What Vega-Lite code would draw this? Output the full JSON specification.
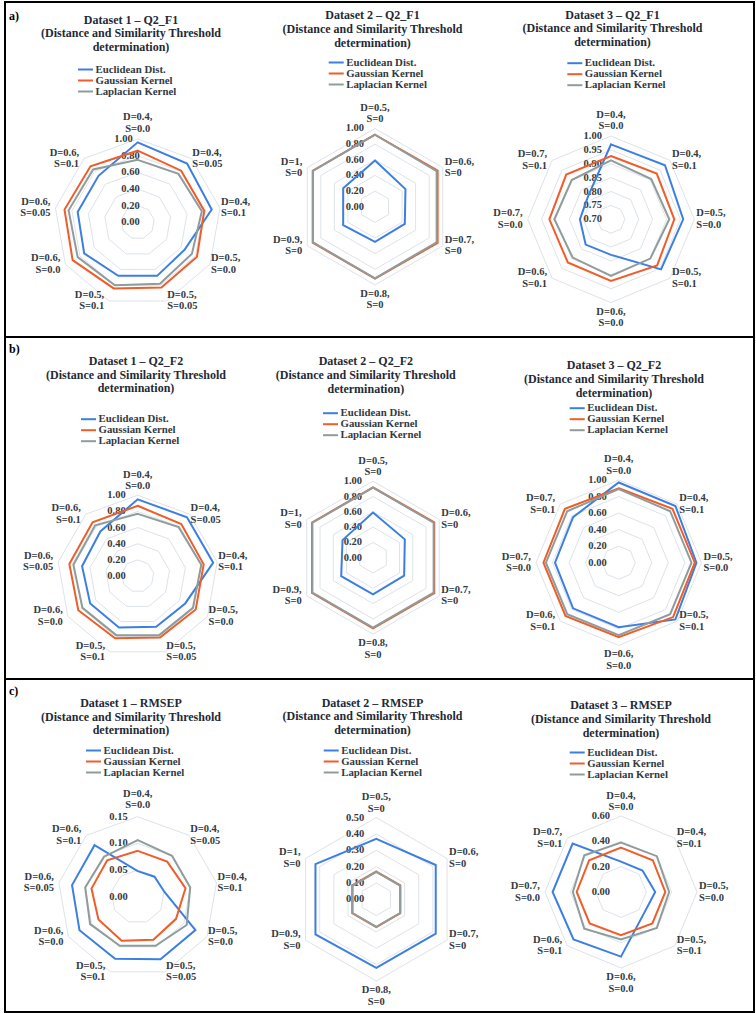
{
  "$schema": "https://vega.github.io/schema/vega-lite/v6.json",
  "background": "white",
  "padding": {"left": 4, "top": 1, "right": 3, "bottom": 2},
  "bounds": "flush",
  "spacing": 0,
  "config": {
    "view": {"stroke": "#000000", "strokeWidth": 2},
    "text": {"font": "Liberation Serif", "fontWeight": "bold", "fontSize": 10.5, "color": "#333a42", "lineBreak": "\n", "lineHeight": 11.5},
    "legend": {"symbolType": "M-1.5,0H1.5", "symbolSize": 100, "symbolStrokeWidth": 2, "labelFont": "Liberation Serif", "labelFontSize": 10.8, "labelFontWeight": "bold", "labelColor": "#333a42", "rowPadding": -0.7, "labelOffset": 4, "padding": 0}
  },
  "datasets": {
    "c9": [{"k":0,"c":"D=0.4,\nS=0.0"},{"k":1,"c":"D=0.4,\nS=0.05"},{"k":2,"c":"D=0.4,\nS=0.1"},{"k":3,"c":"D=0.5,\nS=0.0"},{"k":4,"c":"D=0.5,\nS=0.05"},{"k":5,"c":"D=0.5,\nS=0.1"},{"k":6,"c":"D=0.6,\nS=0.0"},{"k":7,"c":"D=0.6,\nS=0.05"},{"k":8,"c":"D=0.6,\nS=0.1"}],
    "c6": [{"k":0,"c":"D=0.5,\nS=0"},{"k":1,"c":"D=0.6,\nS=0"},{"k":2,"c":"D=0.7,\nS=0"},{"k":3,"c":"D=0.8,\nS=0"},{"k":4,"c":"D=0.9,\nS=0"},{"k":5,"c":"D=1,\nS=0"}],
    "c8": [{"k":0,"c":"D=0.4,\nS=0.0"},{"k":1,"c":"D=0.4,\nS=0.1"},{"k":2,"c":"D=0.5,\nS=0.0"},{"k":3,"c":"D=0.5,\nS=0.1"},{"k":4,"c":"D=0.6,\nS=0.0"},{"k":5,"c":"D=0.6,\nS=0.1"},{"k":6,"c":"D=0.7,\nS=0.0"},{"k":7,"c":"D=0.7,\nS=0.1"}],
    "t_9_1": [{"t":0,"k":[0,1,2,3,4,5,6,7,8]},{"t":0.2,"k":[0,1,2,3,4,5,6,7,8]},{"t":0.4,"k":[0,1,2,3,4,5,6,7,8]},{"t":0.6,"k":[0,1,2,3,4,5,6,7,8]},{"t":0.8,"k":[0,1,2,3,4,5,6,7,8]},{"t":1,"k":[0,1,2,3,4,5,6,7,8]}],
    "t_6_1": [{"t":0,"k":[0,1,2,3,4,5]},{"t":0.2,"k":[0,1,2,3,4,5]},{"t":0.4,"k":[0,1,2,3,4,5]},{"t":0.6,"k":[0,1,2,3,4,5]},{"t":0.8,"k":[0,1,2,3,4,5]},{"t":1,"k":[0,1,2,3,4,5]}],
    "t_8_a3": [{"t":0.7,"k":[0,1,2,3,4,5,6,7]},{"t":0.75,"k":[0,1,2,3,4,5,6,7]},{"t":0.8,"k":[0,1,2,3,4,5,6,7]},{"t":0.85,"k":[0,1,2,3,4,5,6,7]},{"t":0.9,"k":[0,1,2,3,4,5,6,7]},{"t":0.95,"k":[0,1,2,3,4,5,6,7]},{"t":1,"k":[0,1,2,3,4,5,6,7]}],
    "t_8_1": [{"t":0,"k":[0,1,2,3,4,5,6,7]},{"t":0.2,"k":[0,1,2,3,4,5,6,7]},{"t":0.4,"k":[0,1,2,3,4,5,6,7]},{"t":0.6,"k":[0,1,2,3,4,5,6,7]},{"t":0.8,"k":[0,1,2,3,4,5,6,7]},{"t":1,"k":[0,1,2,3,4,5,6,7]}],
    "t_c1": [{"t":0,"k":[0,1,2,3,4,5,6,7,8]},{"t":0.05,"k":[0,1,2,3,4,5,6,7,8]},{"t":0.1,"k":[0,1,2,3,4,5,6,7,8]},{"t":0.15,"k":[0,1,2,3,4,5,6,7,8]}],
    "t_c2": [{"t":0,"k":[0,1,2,3,4,5]},{"t":0.1,"k":[0,1,2,3,4,5]},{"t":0.2,"k":[0,1,2,3,4,5]},{"t":0.3,"k":[0,1,2,3,4,5]},{"t":0.4,"k":[0,1,2,3,4,5]},{"t":0.5,"k":[0,1,2,3,4,5]}],
    "t_c3": [{"t":0,"k":[0,1,2,3,4,5,6,7]},{"t":0.2,"k":[0,1,2,3,4,5,6,7]},{"t":0.4,"k":[0,1,2,3,4,5,6,7]},{"t":0.6,"k":[0,1,2,3,4,5,6,7]}],
    "a1": [
      {"s":"Euclidean Dist.","k":0,"v":0.96},{"s":"Euclidean Dist.","k":1,"v":0.92},{"s":"Euclidean Dist.","k":2,"v":0.90},{"s":"Euclidean Dist.","k":3,"v":0.65},{"s":"Euclidean Dist.","k":4,"v":0.68},{"s":"Euclidean Dist.","k":5,"v":0.68},{"s":"Euclidean Dist.","k":6,"v":0.74},{"s":"Euclidean Dist.","k":7,"v":0.73},{"s":"Euclidean Dist.","k":8,"v":0.73},
      {"s":"Gaussian Kernel","k":0,"v":0.86},{"s":"Gaussian Kernel","k":1,"v":0.81},{"s":"Gaussian Kernel","k":2,"v":0.81},{"s":"Gaussian Kernel","k":3,"v":0.82},{"s":"Gaussian Kernel","k":4,"v":0.83},{"s":"Gaussian Kernel","k":5,"v":0.84},{"s":"Gaussian Kernel","k":6,"v":0.90},{"s":"Gaussian Kernel","k":7,"v":0.89},{"s":"Gaussian Kernel","k":8,"v":0.88},
      {"s":"Laplacian Kernel","k":0,"v":0.75},{"s":"Laplacian Kernel","k":1,"v":0.76},{"s":"Laplacian Kernel","k":2,"v":0.78},{"s":"Laplacian Kernel","k":3,"v":0.75},{"s":"Laplacian Kernel","k":4,"v":0.78},{"s":"Laplacian Kernel","k":5,"v":0.80},{"s":"Laplacian Kernel","k":6,"v":0.83},{"s":"Laplacian Kernel","k":7,"v":0.84},{"s":"Laplacian Kernel","k":8,"v":0.83}
    ],
    "a2": [
      {"s":"Euclidean Dist.","k":0,"v":0.59},{"s":"Euclidean Dist.","k":1,"v":0.45},{"s":"Euclidean Dist.","k":2,"v":0.44},{"s":"Euclidean Dist.","k":3,"v":0.45},{"s":"Euclidean Dist.","k":4,"v":0.47},{"s":"Euclidean Dist.","k":5,"v":0.47},
      {"s":"Gaussian Kernel","k":0,"v":0.92},{"s":"Gaussian Kernel","k":1,"v":0.925},{"s":"Gaussian Kernel","k":2,"v":0.925},{"s":"Gaussian Kernel","k":3,"v":0.92},{"s":"Gaussian Kernel","k":4,"v":0.92},{"s":"Gaussian Kernel","k":5,"v":0.92},
      {"s":"Laplacian Kernel","k":0,"v":0.92},{"s":"Laplacian Kernel","k":1,"v":0.91},{"s":"Laplacian Kernel","k":2,"v":0.91},{"s":"Laplacian Kernel","k":3,"v":0.915},{"s":"Laplacian Kernel","k":4,"v":0.915},{"s":"Laplacian Kernel","k":5,"v":0.915}
    ],
    "a3": [
      {"s":"Euclidean Dist.","k":0,"v":0.97},{"s":"Euclidean Dist.","k":1,"v":0.975},{"s":"Euclidean Dist.","k":2,"v":0.96},{"s":"Euclidean Dist.","k":3,"v":0.955},{"s":"Euclidean Dist.","k":4,"v":0.828},{"s":"Euclidean Dist.","k":5,"v":0.829},{"s":"Euclidean Dist.","k":6,"v":0.812},{"s":"Euclidean Dist.","k":7,"v":0.817},
      {"s":"Gaussian Kernel","k":0,"v":0.928},{"s":"Gaussian Kernel","k":1,"v":0.933},{"s":"Gaussian Kernel","k":2,"v":0.928},{"s":"Gaussian Kernel","k":3,"v":0.935},{"s":"Gaussian Kernel","k":4,"v":0.922},{"s":"Gaussian Kernel","k":5,"v":0.92},{"s":"Gaussian Kernel","k":6,"v":0.922},{"s":"Gaussian Kernel","k":7,"v":0.928},
      {"s":"Laplacian Kernel","k":0,"v":0.912},{"s":"Laplacian Kernel","k":1,"v":0.905},{"s":"Laplacian Kernel","k":2,"v":0.91},{"s":"Laplacian Kernel","k":3,"v":0.90},{"s":"Laplacian Kernel","k":4,"v":0.904},{"s":"Laplacian Kernel","k":5,"v":0.895},{"s":"Laplacian Kernel","k":6,"v":0.904},{"s":"Laplacian Kernel","k":7,"v":0.90}
    ],
    "b1": [
      {"s":"Euclidean Dist.","k":0,"v":0.95},{"s":"Euclidean Dist.","k":1,"v":0.95},{"s":"Euclidean Dist.","k":2,"v":0.95},{"s":"Euclidean Dist.","k":3,"v":0.68},{"s":"Euclidean Dist.","k":4,"v":0.67},{"s":"Euclidean Dist.","k":5,"v":0.68},{"s":"Euclidean Dist.","k":6,"v":0.68},{"s":"Euclidean Dist.","k":7,"v":0.70},{"s":"Euclidean Dist.","k":8,"v":0.72},
      {"s":"Gaussian Kernel","k":0,"v":0.87},{"s":"Gaussian Kernel","k":1,"v":0.84},{"s":"Gaussian Kernel","k":2,"v":0.83},{"s":"Gaussian Kernel","k":3,"v":0.83},{"s":"Gaussian Kernel","k":4,"v":0.81},{"s":"Gaussian Kernel","k":5,"v":0.82},{"s":"Gaussian Kernel","k":6,"v":0.85},{"s":"Gaussian Kernel","k":7,"v":0.86},{"s":"Gaussian Kernel","k":8,"v":0.87},
      {"s":"Laplacian Kernel","k":0,"v":0.77},{"s":"Laplacian Kernel","k":1,"v":0.79},{"s":"Laplacian Kernel","k":2,"v":0.80},{"s":"Laplacian Kernel","k":3,"v":0.79},{"s":"Laplacian Kernel","k":4,"v":0.78},{"s":"Laplacian Kernel","k":5,"v":0.78},{"s":"Laplacian Kernel","k":6,"v":0.79},{"s":"Laplacian Kernel","k":7,"v":0.81},{"s":"Laplacian Kernel","k":8,"v":0.82}
    ],
    "b2": [
      {"s":"Euclidean Dist.","k":0,"v":0.59},{"s":"Euclidean Dist.","k":1,"v":0.48},{"s":"Euclidean Dist.","k":2,"v":0.47},{"s":"Euclidean Dist.","k":3,"v":0.48},{"s":"Euclidean Dist.","k":4,"v":0.48},{"s":"Euclidean Dist.","k":5,"v":0.46},
      {"s":"Gaussian Kernel","k":0,"v":0.92},{"s":"Gaussian Kernel","k":1,"v":0.925},{"s":"Gaussian Kernel","k":2,"v":0.925},{"s":"Gaussian Kernel","k":3,"v":0.925},{"s":"Gaussian Kernel","k":4,"v":0.92},{"s":"Gaussian Kernel","k":5,"v":0.92},
      {"s":"Laplacian Kernel","k":0,"v":0.915},{"s":"Laplacian Kernel","k":1,"v":0.915},{"s":"Laplacian Kernel","k":2,"v":0.915},{"s":"Laplacian Kernel","k":3,"v":0.915},{"s":"Laplacian Kernel","k":4,"v":0.915},{"s":"Laplacian Kernel","k":5,"v":0.915}
    ],
    "b3": [
      {"s":"Euclidean Dist.","k":0,"v":0.97},{"s":"Euclidean Dist.","k":1,"v":0.97},{"s":"Euclidean Dist.","k":2,"v":0.94},{"s":"Euclidean Dist.","k":3,"v":0.97},{"s":"Euclidean Dist.","k":4,"v":0.78},{"s":"Euclidean Dist.","k":5,"v":0.78},{"s":"Euclidean Dist.","k":6,"v":0.77},{"s":"Euclidean Dist.","k":7,"v":0.78},
      {"s":"Gaussian Kernel","k":0,"v":0.90},{"s":"Gaussian Kernel","k":1,"v":0.92},{"s":"Gaussian Kernel","k":2,"v":0.92},{"s":"Gaussian Kernel","k":3,"v":0.93},{"s":"Gaussian Kernel","k":4,"v":0.90},{"s":"Gaussian Kernel","k":5,"v":0.91},{"s":"Gaussian Kernel","k":6,"v":0.91},{"s":"Gaussian Kernel","k":7,"v":0.92},
      {"s":"Laplacian Kernel","k":0,"v":0.89},{"s":"Laplacian Kernel","k":1,"v":0.88},{"s":"Laplacian Kernel","k":2,"v":0.88},{"s":"Laplacian Kernel","k":3,"v":0.88},{"s":"Laplacian Kernel","k":4,"v":0.875},{"s":"Laplacian Kernel","k":5,"v":0.88},{"s":"Laplacian Kernel","k":6,"v":0.88},{"s":"Laplacian Kernel","k":7,"v":0.88}
    ],
    "c1": [
      {"s":"Euclidean Dist.","k":0,"v":0.048},{"s":"Euclidean Dist.","k":1,"v":0.049},{"s":"Euclidean Dist.","k":2,"v":0.051},{"s":"Euclidean Dist.","k":3,"v":0.125},{"s":"Euclidean Dist.","k":4,"v":0.125},{"s":"Euclidean Dist.","k":5,"v":0.124},{"s":"Euclidean Dist.","k":6,"v":0.126},{"s":"Euclidean Dist.","k":7,"v":0.125},{"s":"Euclidean Dist.","k":8,"v":0.126},
      {"s":"Gaussian Kernel","k":0,"v":0.086},{"s":"Gaussian Kernel","k":1,"v":0.086},{"s":"Gaussian Kernel","k":2,"v":0.091},{"s":"Gaussian Kernel","k":3,"v":0.083},{"s":"Gaussian Kernel","k":4,"v":0.086},{"s":"Gaussian Kernel","k":5,"v":0.088},{"s":"Gaussian Kernel","k":6,"v":0.085},{"s":"Gaussian Kernel","k":7,"v":0.088},{"s":"Gaussian Kernel","k":8,"v":0.089},
      {"s":"Laplacian Kernel","k":0,"v":0.106},{"s":"Laplacian Kernel","k":1,"v":0.100},{"s":"Laplacian Kernel","k":2,"v":0.100},{"s":"Laplacian Kernel","k":3,"v":0.106},{"s":"Laplacian Kernel","k":4,"v":0.098},{"s":"Laplacian Kernel","k":5,"v":0.098},{"s":"Laplacian Kernel","k":6,"v":0.103},{"s":"Laplacian Kernel","k":7,"v":0.100},{"s":"Laplacian Kernel","k":8,"v":0.098}
    ],
    "c2": [
      {"s":"Euclidean Dist.","k":0,"v":0.37},{"s":"Euclidean Dist.","k":1,"v":0.42},{"s":"Euclidean Dist.","k":2,"v":0.42},{"s":"Euclidean Dist.","k":3,"v":0.42},{"s":"Euclidean Dist.","k":4,"v":0.43},{"s":"Euclidean Dist.","k":5,"v":0.43},
      {"s":"Gaussian Kernel","k":0,"v":0.17},{"s":"Gaussian Kernel","k":1,"v":0.17},{"s":"Gaussian Kernel","k":2,"v":0.17},{"s":"Gaussian Kernel","k":3,"v":0.17},{"s":"Gaussian Kernel","k":4,"v":0.17},{"s":"Gaussian Kernel","k":5,"v":0.17},
      {"s":"Laplacian Kernel","k":0,"v":0.168},{"s":"Laplacian Kernel","k":1,"v":0.168},{"s":"Laplacian Kernel","k":2,"v":0.168},{"s":"Laplacian Kernel","k":3,"v":0.168},{"s":"Laplacian Kernel","k":4,"v":0.168},{"s":"Laplacian Kernel","k":5,"v":0.168}
    ],
    "c3": [
      {"s":"Euclidean Dist.","k":0,"v":0.24},{"s":"Euclidean Dist.","k":1,"v":0.24},{"s":"Euclidean Dist.","k":2,"v":0.27},{"s":"Euclidean Dist.","k":3,"v":0.25},{"s":"Euclidean Dist.","k":4,"v":0.51},{"s":"Euclidean Dist.","k":5,"v":0.53},{"s":"Euclidean Dist.","k":6,"v":0.54},{"s":"Euclidean Dist.","k":7,"v":0.54},
      {"s":"Gaussian Kernel","k":0,"v":0.35},{"s":"Gaussian Kernel","k":1,"v":0.355},{"s":"Gaussian Kernel","k":2,"v":0.35},{"s":"Gaussian Kernel","k":3,"v":0.35},{"s":"Gaussian Kernel","k":4,"v":0.34},{"s":"Gaussian Kernel","k":5,"v":0.35},{"s":"Gaussian Kernel","k":6,"v":0.35},{"s":"Gaussian Kernel","k":7,"v":0.355},
      {"s":"Laplacian Kernel","k":0,"v":0.39},{"s":"Laplacian Kernel","k":1,"v":0.40},{"s":"Laplacian Kernel","k":2,"v":0.38},{"s":"Laplacian Kernel","k":3,"v":0.40},{"s":"Laplacian Kernel","k":4,"v":0.375},{"s":"Laplacian Kernel","k":5,"v":0.41},{"s":"Laplacian Kernel","k":6,"v":0.38},{"s":"Laplacian Kernel","k":7,"v":0.41}
    ]
  },
  "vconcat": [
    {
      "width": 749, "height": 335,
      "resolve": {"scale": {"x": "independent", "y": "independent", "color": "independent"}},
      "layer": [
        {
          "encoding": {
            "x": {"field": "px", "type": "quantitative", "scale": {"domain": [-1.5892, 7.3808], "nice": false, "zero": false}, "axis": null},
            "y": {"field": "py", "type": "quantitative", "scale": {"domain": [-1.3713, 2.6407], "nice": false, "zero": false}, "axis": null}
          },
          "layer": [
            {"data": {"name": "t_9_1"}, "transform": [{"filter": "datum.t > 0"}, {"flatten": ["k"]}, {"calculate": "datum.t/1", "as": "r"}, {"calculate": "datum.r*sin(2*PI*datum.k/9)", "as": "px"}, {"calculate": "datum.r*cos(2*PI*datum.k/9)", "as": "py"}],
             "mark": {"type": "line", "interpolate": "linear-closed", "stroke": "#dde3ea", "strokeWidth": 1}, "encoding": {"detail": {"field": "t"}, "order": {"field": "k"}}},
            {"data": {"name": "t_9_1"}, "transform": [{"filter": "datum.t < 1"}, {"calculate": "0", "as": "px"}, {"calculate": "datum.t/1", "as": "py"}],
             "mark": {"type": "text", "align": "right", "dx": 2},
             "encoding": {"text": {"field": "t", "format": ".2f"}}},
            {"data": {"name": "t_9_1"}, "transform": [{"filter": "datum.t == 1"}, {"calculate": "0", "as": "px"}, {"calculate": "datum.t/1", "as": "py"}],
             "mark": {"type": "text", "align": "right", "dx": -5},
             "encoding": {"text": {"field": "t", "format": ".2f"}}},
            {"data": {"name": "a1"}, "transform": [{"calculate": "datum.v/1", "as": "r"}, {"calculate": "datum.r*sin(2*PI*datum.k/9)", "as": "px"}, {"calculate": "datum.r*cos(2*PI*datum.k/9)", "as": "py"}],
             "mark": {"type": "line", "interpolate": "linear-closed", "strokeWidth": 2},
             "encoding": {"order": {"field": "k"}, "color": {"field": "s", "type": "nominal", "scale": {"domain": ["Euclidean Dist.", "Gaussian Kernel", "Laplacian Kernel"], "range": ["#3c7fe2", "#f05c2a", "#8f9c9c"]}, "legend": {"title": null, "orient": "none", "legendX": 74.5, "legendY": 61.5}}}},
            {"data": {"name": "c9"}, "transform": [{"calculate": "sin(2*PI*datum.k/9)", "as": "px"}, {"calculate": "cos(2*PI*datum.k/9)", "as": "py"}, {"filter": "datum.px > 0.01"}],
             "mark": {"type": "text", "align": "left", "dx": 1, "dy": -6}, "encoding": {"text": {"field": "c"}}},
            {"data": {"name": "c9"}, "transform": [{"calculate": "sin(2*PI*datum.k/9)", "as": "px"}, {"calculate": "cos(2*PI*datum.k/9)", "as": "py"}, {"filter": "datum.px < -0.01"}],
             "mark": {"type": "text", "align": "right", "dx": -5, "dy": -6}, "encoding": {"text": {"field": "c"}}},
            {"data": {"name": "c9"}, "transform": [{"calculate": "sin(2*PI*datum.k/9)", "as": "px"}, {"calculate": "cos(2*PI*datum.k/9)", "as": "py"}, {"filter": "datum.k == 0"}],
             "mark": {"type": "text", "align": "center", "baseline": "bottom", "dy": -16.5}, "encoding": {"text": {"field": "c"}}},
            {"data": {"values": [{}]}, "transform": [{"calculate": "-0.0802", "as": "px"}, {"calculate": "2.4898", "as": "py"}],
             "mark": {"type": "text", "align": "center", "baseline": "top", "fontSize": 12, "lineHeight": 13.8, "color": "#1f2a36"},
             "encoding": {"text": {"value": ["Dataset 1 – Q2_F1", "(Distance and Similarity Threshold", "determination)"]}}},
            {"data": {"values": [{}]}, "transform": [{"calculate": "-1.5413", "as": "px"}, {"calculate": "2.473", "as": "py"}],
             "mark": {"type": "text", "align": "left", "fontSize": 12, "color": "#000000"},
             "encoding": {"text": {"value": "a)"}}}
          ]
        },
        {
          "encoding": {
            "x": {"field": "px", "type": "quantitative", "scale": {"domain": [-4.7315, 4.8465], "nice": false, "zero": false}, "axis": null},
            "y": {"field": "py", "type": "quantitative", "scale": {"domain": [-1.6662, 2.6176], "nice": false, "zero": false}, "axis": null}
          },
          "layer": [
            {"data": {"name": "t_6_1"}, "transform": [{"filter": "datum.t > 0"}, {"flatten": ["k"]}, {"calculate": "datum.t/1", "as": "r"}, {"calculate": "datum.r*sin(2*PI*datum.k/6)", "as": "px"}, {"calculate": "datum.r*cos(2*PI*datum.k/6)", "as": "py"}],
             "mark": {"type": "line", "interpolate": "linear-closed", "stroke": "#dde3ea", "strokeWidth": 1}, "encoding": {"detail": {"field": "t"}, "order": {"field": "k"}}},
            {"data": {"name": "t_6_1"}, "transform": [{"calculate": "0", "as": "px"}, {"calculate": "datum.t/1", "as": "py"}],
             "mark": {"type": "text", "align": "right", "dx": -11},
             "encoding": {"text": {"field": "t", "format": ".2f"}}},
            {"data": {"name": "a2"}, "transform": [{"calculate": "datum.v/1", "as": "r"}, {"calculate": "datum.r*sin(2*PI*datum.k/6)", "as": "px"}, {"calculate": "datum.r*cos(2*PI*datum.k/6)", "as": "py"}],
             "mark": {"type": "line", "interpolate": "linear-closed", "strokeWidth": 2},
             "encoding": {"order": {"field": "k"}, "color": {"field": "s", "type": "nominal", "scale": {"domain": ["Euclidean Dist.", "Gaussian Kernel", "Laplacian Kernel"], "range": ["#3c7fe2", "#f05c2a", "#8f9c9c"]}, "legend": {"title": null, "orient": "none", "legendX": 325.2, "legendY": 54.5}}}},
            {"data": {"name": "c6"}, "transform": [{"calculate": "sin(2*PI*datum.k/6)", "as": "px"}, {"calculate": "cos(2*PI*datum.k/6)", "as": "py"}, {"filter": "datum.px > 0.01"}],
             "mark": {"type": "text", "align": "left", "dx": 2, "dy": -6}, "encoding": {"text": {"field": "c"}}},
            {"data": {"name": "c6"}, "transform": [{"calculate": "sin(2*PI*datum.k/6)", "as": "px"}, {"calculate": "cos(2*PI*datum.k/6)", "as": "py"}, {"filter": "datum.px < -0.01"}],
             "mark": {"type": "text", "align": "right", "dx": -5, "dy": -6}, "encoding": {"text": {"field": "c"}}},
            {"data": {"name": "c6"}, "transform": [{"calculate": "sin(2*PI*datum.k/6)", "as": "px"}, {"calculate": "cos(2*PI*datum.k/6)", "as": "py"}, {"filter": "datum.k == 0"}],
             "mark": {"type": "text", "align": "center", "baseline": "bottom", "dy": -15.5}, "encoding": {"text": {"field": "c"}}},
            {"data": {"name": "c6"}, "transform": [{"calculate": "sin(2*PI*datum.k/6)", "as": "px"}, {"calculate": "cos(2*PI*datum.k/6)", "as": "py"}, {"filter": "datum.k == 3"}],
             "mark": {"type": "text", "align": "center", "baseline": "top", "dy": 4}, "encoding": {"text": {"field": "c"}}},
            {"data": {"values": [{}]}, "transform": [{"calculate": "-0.032", "as": "px"}, {"calculate": "2.5128", "as": "py"}],
             "mark": {"type": "text", "align": "center", "baseline": "top", "fontSize": 12, "lineHeight": 13.8, "color": "#1f2a36"},
             "encoding": {"text": {"value": ["Dataset 2 – Q2_F1", "(Distance and Similarity Threshold", "determination)"]}}}
          ]
        },
        {
          "encoding": {
            "x": {"field": "px", "type": "quantitative", "scale": {"domain": [-7.2749, 1.7167], "nice": false, "zero": false}, "axis": null},
            "y": {"field": "py", "type": "quantitative", "scale": {"domain": [-1.413, 2.6086], "nice": false, "zero": false}, "axis": null}
          },
          "layer": [
            {"data": {"name": "t_8_a3"}, "transform": [{"filter": "datum.t > 0.7"}, {"flatten": ["k"]}, {"calculate": "(datum.t-0.7)/0.3", "as": "r"}, {"calculate": "datum.r*sin(2*PI*datum.k/8)", "as": "px"}, {"calculate": "datum.r*cos(2*PI*datum.k/8)", "as": "py"}],
             "mark": {"type": "line", "interpolate": "linear-closed", "stroke": "#dde3ea", "strokeWidth": 1}, "encoding": {"detail": {"field": "t"}, "order": {"field": "k"}}},
            {"data": {"name": "t_8_a3"}, "transform": [{"calculate": "0", "as": "px"}, {"calculate": "(datum.t-0.7)/0.3", "as": "py"}],
             "mark": {"type": "text", "align": "right", "dx": -9},
             "encoding": {"text": {"field": "t", "format": ".2f"}}},
            {"data": {"name": "a3"}, "transform": [{"calculate": "(datum.v-0.7)/0.3", "as": "r"}, {"calculate": "datum.r*sin(2*PI*datum.k/8)", "as": "px"}, {"calculate": "datum.r*cos(2*PI*datum.k/8)", "as": "py"}],
             "mark": {"type": "line", "interpolate": "linear-closed", "strokeWidth": 2},
             "encoding": {"order": {"field": "k"}, "color": {"field": "s", "type": "nominal", "scale": {"domain": ["Euclidean Dist.", "Gaussian Kernel", "Laplacian Kernel"], "range": ["#3c7fe2", "#f05c2a", "#8f9c9c"]}, "legend": {"title": null, "orient": "none", "legendX": 563.8, "legendY": 55.2}}}},
            {"data": {"name": "c8"}, "transform": [{"calculate": "sin(2*PI*datum.k/8)", "as": "px"}, {"calculate": "cos(2*PI*datum.k/8)", "as": "py"}, {"filter": "datum.px > 0.01"}],
             "mark": {"type": "text", "align": "left", "dx": 2, "dy": -6}, "encoding": {"text": {"field": "c"}}},
            {"data": {"name": "c8"}, "transform": [{"calculate": "sin(2*PI*datum.k/8)", "as": "px"}, {"calculate": "cos(2*PI*datum.k/8)", "as": "py"}, {"filter": "datum.px < -0.01"}],
             "mark": {"type": "text", "align": "right", "dx": -5, "dy": -6}, "encoding": {"text": {"field": "c"}}},
            {"data": {"name": "c8"}, "transform": [{"calculate": "sin(2*PI*datum.k/8)", "as": "px"}, {"calculate": "cos(2*PI*datum.k/8)", "as": "py"}, {"filter": "datum.k == 0"}],
             "mark": {"type": "text", "align": "center", "baseline": "bottom", "dy": -16}, "encoding": {"text": {"field": "c"}}},
            {"data": {"name": "c8"}, "transform": [{"calculate": "sin(2*PI*datum.k/8)", "as": "px"}, {"calculate": "cos(2*PI*datum.k/8)", "as": "py"}, {"filter": "datum.k == 4"}],
             "mark": {"type": "text", "align": "center", "baseline": "top", "dy": 4}, "encoding": {"text": {"field": "c"}}},
            {"data": {"values": [{}]}, "transform": [{"calculate": "0.018", "as": "px"}, {"calculate": "2.5174", "as": "py"}],
             "mark": {"type": "text", "align": "center", "baseline": "top", "fontSize": 12, "lineHeight": 13.8, "color": "#1f2a36"},
             "encoding": {"text": {"value": ["Dataset 3 – Q2_F1", "(Distance and Similarity Threshold", "determination)"]}}}
          ]
        }
      ]
    },
    {
      "width": 749, "height": 342,
      "resolve": {"scale": {"x": "independent", "y": "independent", "color": "independent"}},
      "layer": [
        {
          "encoding": {
            "x": {"field": "px", "type": "quantitative", "scale": {"domain": [-1.6444, 7.6369], "nice": false, "zero": false}, "axis": null},
            "y": {"field": "py", "type": "quantitative", "scale": {"domain": [-1.2763, 2.9616], "nice": false, "zero": false}, "axis": null}
          },
          "layer": [
            {"data": {"name": "t_9_1"}, "transform": [{"filter": "datum.t > 0"}, {"flatten": ["k"]}, {"calculate": "datum.t/1", "as": "r"}, {"calculate": "datum.r*sin(2*PI*datum.k/9)", "as": "px"}, {"calculate": "datum.r*cos(2*PI*datum.k/9)", "as": "py"}],
             "mark": {"type": "line", "interpolate": "linear-closed", "stroke": "#dde3ea", "strokeWidth": 1}, "encoding": {"detail": {"field": "t"}, "order": {"field": "k"}}},
            {"data": {"name": "t_9_1"}, "transform": [{"calculate": "0", "as": "px"}, {"calculate": "datum.t/1", "as": "py"}],
             "mark": {"type": "text", "align": "right", "dx": -12},
             "encoding": {"text": {"field": "t", "format": ".2f"}}},
            {"data": {"name": "b1"}, "transform": [{"calculate": "datum.v/1", "as": "r"}, {"calculate": "datum.r*sin(2*PI*datum.k/9)", "as": "px"}, {"calculate": "datum.r*cos(2*PI*datum.k/9)", "as": "py"}],
             "mark": {"type": "line", "interpolate": "linear-closed", "strokeWidth": 2},
             "encoding": {"order": {"field": "k"}, "color": {"field": "s", "type": "nominal", "scale": {"domain": ["Euclidean Dist.", "Gaussian Kernel", "Laplacian Kernel"], "range": ["#3c7fe2", "#f05c2a", "#8f9c9c"]}, "legend": {"title": null, "orient": "none", "legendX": 77.5, "legendY": 76.2}}}},
            {"data": {"name": "c9"}, "transform": [{"calculate": "sin(2*PI*datum.k/9)", "as": "px"}, {"calculate": "cos(2*PI*datum.k/9)", "as": "py"}, {"filter": "datum.px > 0.01"}],
             "mark": {"type": "text", "align": "left", "dx": 1, "dy": -6}, "encoding": {"text": {"field": "c"}}},
            {"data": {"name": "c9"}, "transform": [{"calculate": "sin(2*PI*datum.k/9)", "as": "px"}, {"calculate": "cos(2*PI*datum.k/9)", "as": "py"}, {"filter": "datum.px < -0.01"}],
             "mark": {"type": "text", "align": "right", "dx": -5, "dy": -6}, "encoding": {"text": {"field": "c"}}},
            {"data": {"name": "c9"}, "transform": [{"calculate": "sin(2*PI*datum.k/9)", "as": "px"}, {"calculate": "cos(2*PI*datum.k/9)", "as": "py"}, {"filter": "datum.k == 0"}],
             "mark": {"type": "text", "align": "center", "baseline": "bottom", "dy": -15.5}, "encoding": {"text": {"field": "c"}}},
            {"data": {"values": [{}]}, "transform": [{"calculate": "-0.0211", "as": "px"}, {"calculate": "2.7274", "as": "py"}],
             "mark": {"type": "text", "align": "center", "baseline": "top", "fontSize": 12, "lineHeight": 13.8, "color": "#1f2a36"},
             "encoding": {"text": {"value": ["Dataset 1 – Q2_F2", "(Distance and Similarity Threshold", "determination)"]}}},
            {"data": {"values": [{}]}, "transform": [{"calculate": "-1.5948", "as": "px"}, {"calculate": "2.8129", "as": "py"}],
             "mark": {"type": "text", "align": "left", "fontSize": 12, "color": "#000000"},
             "encoding": {"text": {"value": "b)"}}}
          ]
        },
        {
          "encoding": {
            "x": {"field": "px", "type": "quantitative", "scale": {"domain": [-4.8105, 4.9804], "nice": false, "zero": false}, "axis": null},
            "y": {"field": "py", "type": "quantitative", "scale": {"domain": [-1.5856, 2.885], "nice": false, "zero": false}, "axis": null}
          },
          "layer": [
            {"data": {"name": "t_6_1"}, "transform": [{"filter": "datum.t > 0"}, {"flatten": ["k"]}, {"calculate": "datum.t/1", "as": "r"}, {"calculate": "datum.r*sin(2*PI*datum.k/6)", "as": "px"}, {"calculate": "datum.r*cos(2*PI*datum.k/6)", "as": "py"}],
             "mark": {"type": "line", "interpolate": "linear-closed", "stroke": "#dde3ea", "strokeWidth": 1}, "encoding": {"detail": {"field": "t"}, "order": {"field": "k"}}},
            {"data": {"name": "t_6_1"}, "transform": [{"calculate": "0", "as": "px"}, {"calculate": "datum.t/1", "as": "py"}],
             "mark": {"type": "text", "align": "right", "dx": -11},
             "encoding": {"text": {"field": "t", "format": ".2f"}}},
            {"data": {"name": "b2"}, "transform": [{"calculate": "datum.v/1", "as": "r"}, {"calculate": "datum.r*sin(2*PI*datum.k/6)", "as": "px"}, {"calculate": "datum.r*cos(2*PI*datum.k/6)", "as": "py"}],
             "mark": {"type": "line", "interpolate": "linear-closed", "strokeWidth": 2},
             "encoding": {"order": {"field": "k"}, "color": {"field": "s", "type": "nominal", "scale": {"domain": ["Euclidean Dist.", "Gaussian Kernel", "Laplacian Kernel"], "range": ["#3c7fe2", "#f05c2a", "#8f9c9c"]}, "legend": {"title": null, "orient": "none", "legendX": 319.5, "legendY": 70.2}}}},
            {"data": {"name": "c6"}, "transform": [{"calculate": "sin(2*PI*datum.k/6)", "as": "px"}, {"calculate": "cos(2*PI*datum.k/6)", "as": "py"}, {"filter": "datum.px > 0.01"}],
             "mark": {"type": "text", "align": "left", "dx": 2, "dy": -6}, "encoding": {"text": {"field": "c"}}},
            {"data": {"name": "c6"}, "transform": [{"calculate": "sin(2*PI*datum.k/6)", "as": "px"}, {"calculate": "cos(2*PI*datum.k/6)", "as": "py"}, {"filter": "datum.px < -0.01"}],
             "mark": {"type": "text", "align": "right", "dx": -5, "dy": -6}, "encoding": {"text": {"field": "c"}}},
            {"data": {"name": "c6"}, "transform": [{"calculate": "sin(2*PI*datum.k/6)", "as": "px"}, {"calculate": "cos(2*PI*datum.k/6)", "as": "py"}, {"filter": "datum.k == 0"}],
             "mark": {"type": "text", "align": "center", "baseline": "bottom", "dy": -15.5}, "encoding": {"text": {"field": "c"}}},
            {"data": {"name": "c6"}, "transform": [{"calculate": "sin(2*PI*datum.k/6)", "as": "px"}, {"calculate": "cos(2*PI*datum.k/6)", "as": "py"}, {"filter": "datum.k == 3"}],
             "mark": {"type": "text", "align": "center", "baseline": "top", "dy": 4}, "encoding": {"text": {"field": "c"}}},
            {"data": {"values": [{}]}, "transform": [{"calculate": "-0.0941", "as": "px"}, {"calculate": "2.634", "as": "py"}],
             "mark": {"type": "text", "align": "center", "baseline": "top", "fontSize": 12, "lineHeight": 13.8, "color": "#1f2a36"},
             "encoding": {"text": {"value": ["Dataset 2 – Q2_F2", "(Distance and Similarity Threshold", "determination)"]}}}
          ]
        },
        {
          "encoding": {
            "x": {"field": "px", "type": "quantitative", "scale": {"domain": [-7.4208, 1.636], "nice": false, "zero": false}, "axis": null},
            "y": {"field": "py", "type": "quantitative", "scale": {"domain": [-1.4063, 2.7291], "nice": false, "zero": false}, "axis": null}
          },
          "layer": [
            {"data": {"name": "t_8_1"}, "transform": [{"filter": "datum.t > 0"}, {"flatten": ["k"]}, {"calculate": "datum.t/1", "as": "r"}, {"calculate": "datum.r*sin(2*PI*datum.k/8)", "as": "px"}, {"calculate": "datum.r*cos(2*PI*datum.k/8)", "as": "py"}],
             "mark": {"type": "line", "interpolate": "linear-closed", "stroke": "#dde3ea", "strokeWidth": 1}, "encoding": {"detail": {"field": "t"}, "order": {"field": "k"}}},
            {"data": {"name": "t_8_1"}, "transform": [{"calculate": "0", "as": "px"}, {"calculate": "datum.t/1", "as": "py"}],
             "mark": {"type": "text", "align": "right", "dx": -12},
             "encoding": {"text": {"field": "t", "format": ".2f"}}},
            {"data": {"name": "b3"}, "transform": [{"calculate": "datum.v/1", "as": "r"}, {"calculate": "datum.r*sin(2*PI*datum.k/8)", "as": "px"}, {"calculate": "datum.r*cos(2*PI*datum.k/8)", "as": "py"}],
             "mark": {"type": "line", "interpolate": "linear-closed", "strokeWidth": 2},
             "encoding": {"order": {"field": "k"}, "color": {"field": "s", "type": "nominal", "scale": {"domain": ["Euclidean Dist.", "Gaussian Kernel", "Laplacian Kernel"], "range": ["#3c7fe2", "#f05c2a", "#8f9c9c"]}, "legend": {"title": null, "orient": "none", "legendX": 566.2, "legendY": 65.2}}}},
            {"data": {"name": "c8"}, "transform": [{"calculate": "sin(2*PI*datum.k/8)", "as": "px"}, {"calculate": "cos(2*PI*datum.k/8)", "as": "py"}, {"filter": "datum.px > 0.01"}],
             "mark": {"type": "text", "align": "left", "dx": 2, "dy": -6}, "encoding": {"text": {"field": "c"}}},
            {"data": {"name": "c8"}, "transform": [{"calculate": "sin(2*PI*datum.k/8)", "as": "px"}, {"calculate": "cos(2*PI*datum.k/8)", "as": "py"}, {"filter": "datum.px < -0.01"}],
             "mark": {"type": "text", "align": "right", "dx": -5, "dy": -6}, "encoding": {"text": {"field": "c"}}},
            {"data": {"name": "c8"}, "transform": [{"calculate": "sin(2*PI*datum.k/8)", "as": "px"}, {"calculate": "cos(2*PI*datum.k/8)", "as": "py"}, {"filter": "datum.k == 0"}],
             "mark": {"type": "text", "align": "center", "baseline": "bottom", "dy": -15.5}, "encoding": {"text": {"field": "c"}}},
            {"data": {"name": "c8"}, "transform": [{"calculate": "sin(2*PI*datum.k/8)", "as": "px"}, {"calculate": "cos(2*PI*datum.k/8)", "as": "py"}, {"filter": "datum.k == 4"}],
             "mark": {"type": "text", "align": "center", "baseline": "top", "dy": 4}, "encoding": {"text": {"field": "c"}}},
            {"data": {"values": [{}]}, "transform": [{"calculate": "-0.0568", "as": "px"}, {"calculate": "2.4486", "as": "py"}],
             "mark": {"type": "text", "align": "center", "baseline": "top", "fontSize": 12, "lineHeight": 13.8, "color": "#1f2a36"},
             "encoding": {"text": {"value": ["Dataset 3 – Q2_F2", "(Distance and Similarity Threshold", "determination)"]}}}
          ]
        }
      ]
    },
    {
      "width": 749, "height": 333,
      "resolve": {"scale": {"x": "independent", "y": "independent", "color": "independent"}},
      "layer": [
        {
          "encoding": {
            "x": {"field": "px", "type": "quantitative", "scale": {"domain": [-1.6588, 7.7038], "nice": false, "zero": false}, "axis": null},
            "y": {"field": "py", "type": "quantitative", "scale": {"domain": [-1.4413, 2.7213], "nice": false, "zero": false}, "axis": null}
          },
          "layer": [
            {"data": {"name": "t_c1"}, "transform": [{"filter": "datum.t > 0"}, {"flatten": ["k"]}, {"calculate": "datum.t/0.15", "as": "r"}, {"calculate": "datum.r*sin(2*PI*datum.k/9)", "as": "px"}, {"calculate": "datum.r*cos(2*PI*datum.k/9)", "as": "py"}],
             "mark": {"type": "line", "interpolate": "linear-closed", "stroke": "#dde3ea", "strokeWidth": 1}, "encoding": {"detail": {"field": "t"}, "order": {"field": "k"}}},
            {"data": {"name": "t_c1"}, "transform": [{"calculate": "0", "as": "px"}, {"calculate": "datum.t/0.15", "as": "py"}],
             "mark": {"type": "text", "align": "right", "dx": -10},
             "encoding": {"text": {"field": "t", "format": ".2f"}}},
            {"data": {"name": "c1"}, "transform": [{"calculate": "datum.v/0.15", "as": "r"}, {"calculate": "datum.r*sin(2*PI*datum.k/9)", "as": "px"}, {"calculate": "datum.r*cos(2*PI*datum.k/9)", "as": "py"}],
             "mark": {"type": "line", "interpolate": "linear-closed", "strokeWidth": 2},
             "encoding": {"order": {"field": "k"}, "color": {"field": "s", "type": "nominal", "scale": {"domain": ["Euclidean Dist.", "Gaussian Kernel", "Laplacian Kernel"], "range": ["#3c7fe2", "#f05c2a", "#8f9c9c"]}, "legend": {"title": null, "orient": "none", "legendX": 82.5, "legendY": 65.5}}}},
            {"data": {"name": "c9"}, "transform": [{"calculate": "sin(2*PI*datum.k/9)", "as": "px"}, {"calculate": "cos(2*PI*datum.k/9)", "as": "py"}, {"filter": "datum.px > 0.01"}],
             "mark": {"type": "text", "align": "left", "dx": 1, "dy": -6}, "encoding": {"text": {"field": "c"}}},
            {"data": {"name": "c9"}, "transform": [{"calculate": "sin(2*PI*datum.k/9)", "as": "px"}, {"calculate": "cos(2*PI*datum.k/9)", "as": "py"}, {"filter": "datum.px < -0.01"}],
             "mark": {"type": "text", "align": "right", "dx": -5, "dy": -6}, "encoding": {"text": {"field": "c"}}},
            {"data": {"name": "c9"}, "transform": [{"calculate": "sin(2*PI*datum.k/9)", "as": "px"}, {"calculate": "cos(2*PI*datum.k/9)", "as": "py"}, {"filter": "datum.k == 0"}],
             "mark": {"type": "text", "align": "center", "baseline": "bottom", "dy": -18}, "encoding": {"text": {"field": "c"}}},
            {"data": {"values": [{}]}, "transform": [{"calculate": "-0.0838", "as": "px"}, {"calculate": "2.485", "as": "py"}],
             "mark": {"type": "text", "align": "center", "baseline": "top", "fontSize": 12, "lineHeight": 13.8, "color": "#1f2a36"},
             "encoding": {"text": {"value": ["Dataset 1 – RMSEP", "(Distance and Similarity Threshold", "determination)"]}}},
            {"data": {"values": [{}]}, "transform": [{"calculate": "-1.6088", "as": "px"}, {"calculate": "2.5713", "as": "py"}],
             "mark": {"type": "text", "align": "left", "fontSize": 12, "color": "#000000"},
             "encoding": {"text": {"value": "c)"}}}
          ]
        },
        {
          "encoding": {
            "x": {"field": "px", "type": "quantitative", "scale": {"domain": [-4.5447, 4.623], "nice": false, "zero": false}, "axis": null},
            "y": {"field": "py", "type": "quantitative", "scale": {"domain": [-1.3794, 2.6965], "nice": false, "zero": false}, "axis": null}
          },
          "layer": [
            {"data": {"name": "t_c2"}, "transform": [{"filter": "datum.t > 0"}, {"flatten": ["k"]}, {"calculate": "datum.t/0.5", "as": "r"}, {"calculate": "datum.r*sin(2*PI*datum.k/6)", "as": "px"}, {"calculate": "datum.r*cos(2*PI*datum.k/6)", "as": "py"}],
             "mark": {"type": "line", "interpolate": "linear-closed", "stroke": "#dde3ea", "strokeWidth": 1}, "encoding": {"detail": {"field": "t"}, "order": {"field": "k"}}},
            {"data": {"name": "t_c2"}, "transform": [{"calculate": "0", "as": "px"}, {"calculate": "datum.t/0.5", "as": "py"}],
             "mark": {"type": "text", "align": "right", "dx": -12},
             "encoding": {"text": {"field": "t", "format": ".2f"}}},
            {"data": {"name": "c2"}, "transform": [{"calculate": "datum.v/0.5", "as": "r"}, {"calculate": "datum.r*sin(2*PI*datum.k/6)", "as": "px"}, {"calculate": "datum.r*cos(2*PI*datum.k/6)", "as": "py"}],
             "mark": {"type": "line", "interpolate": "linear-closed", "strokeWidth": 2},
             "encoding": {"order": {"field": "k"}, "color": {"field": "s", "type": "nominal", "scale": {"domain": ["Euclidean Dist.", "Gaussian Kernel", "Laplacian Kernel"], "range": ["#3c7fe2", "#f05c2a", "#8f9c9c"]}, "legend": {"title": null, "orient": "none", "legendX": 320.2, "legendY": 65.5}}}},
            {"data": {"name": "c6"}, "transform": [{"calculate": "sin(2*PI*datum.k/6)", "as": "px"}, {"calculate": "cos(2*PI*datum.k/6)", "as": "py"}, {"filter": "datum.px > 0.01"}],
             "mark": {"type": "text", "align": "left", "dx": 2, "dy": -6}, "encoding": {"text": {"field": "c"}}},
            {"data": {"name": "c6"}, "transform": [{"calculate": "sin(2*PI*datum.k/6)", "as": "px"}, {"calculate": "cos(2*PI*datum.k/6)", "as": "py"}, {"filter": "datum.px < -0.01"}],
             "mark": {"type": "text", "align": "right", "dx": -5, "dy": -6}, "encoding": {"text": {"field": "c"}}},
            {"data": {"name": "c6"}, "transform": [{"calculate": "sin(2*PI*datum.k/6)", "as": "px"}, {"calculate": "cos(2*PI*datum.k/6)", "as": "py"}, {"filter": "datum.k == 0"}],
             "mark": {"type": "text", "align": "center", "baseline": "bottom", "dy": -15.5}, "encoding": {"text": {"field": "c"}}},
            {"data": {"name": "c6"}, "transform": [{"calculate": "sin(2*PI*datum.k/6)", "as": "px"}, {"calculate": "cos(2*PI*datum.k/6)", "as": "py"}, {"filter": "datum.k == 3"}],
             "mark": {"type": "text", "align": "center", "baseline": "top", "dy": 4}, "encoding": {"text": {"field": "c"}}},
            {"data": {"values": [{}]}, "transform": [{"calculate": "-0.0465", "as": "px"}, {"calculate": "2.4688", "as": "py"}],
             "mark": {"type": "text", "align": "center", "baseline": "top", "fontSize": 12, "lineHeight": 13.8, "color": "#1f2a36"},
             "encoding": {"text": {"value": ["Dataset 2 – RMSEP", "(Distance and Similarity Threshold", "determination)"]}}}
          ]
        },
        {
          "encoding": {
            "x": {"field": "px", "type": "quantitative", "scale": {"domain": [-8.1053, 1.75], "nice": false, "zero": false}, "axis": null},
            "y": {"field": "py", "type": "quantitative", "scale": {"domain": [-1.5789, 2.8026], "nice": false, "zero": false}, "axis": null}
          },
          "layer": [
            {"data": {"name": "t_c3"}, "transform": [{"filter": "datum.t > 0"}, {"flatten": ["k"]}, {"calculate": "datum.t/0.6", "as": "r"}, {"calculate": "datum.r*sin(2*PI*datum.k/8)", "as": "px"}, {"calculate": "datum.r*cos(2*PI*datum.k/8)", "as": "py"}],
             "mark": {"type": "line", "interpolate": "linear-closed", "stroke": "#dde3ea", "strokeWidth": 1}, "encoding": {"detail": {"field": "t"}, "order": {"field": "k"}}},
            {"data": {"name": "t_c3"}, "transform": [{"calculate": "0", "as": "px"}, {"calculate": "datum.t/0.6", "as": "py"}],
             "mark": {"type": "text", "align": "right", "dx": -11},
             "encoding": {"text": {"field": "t", "format": ".2f"}}},
            {"data": {"name": "c3"}, "transform": [{"calculate": "datum.v/0.6", "as": "r"}, {"calculate": "datum.r*sin(2*PI*datum.k/8)", "as": "px"}, {"calculate": "datum.r*cos(2*PI*datum.k/8)", "as": "py"}],
             "mark": {"type": "line", "interpolate": "linear-closed", "strokeWidth": 2},
             "encoding": {"order": {"field": "k"}, "color": {"field": "s", "type": "nominal", "scale": {"domain": ["Euclidean Dist.", "Gaussian Kernel", "Laplacian Kernel"], "range": ["#3c7fe2", "#f05c2a", "#8f9c9c"]}, "legend": {"title": null, "orient": "none", "legendX": 566.2, "legendY": 67.5}}}},
            {"data": {"name": "c8"}, "transform": [{"calculate": "sin(2*PI*datum.k/8)", "as": "px"}, {"calculate": "cos(2*PI*datum.k/8)", "as": "py"}, {"filter": "datum.px > 0.01"}],
             "mark": {"type": "text", "align": "left", "dx": 2, "dy": -6}, "encoding": {"text": {"field": "c"}}},
            {"data": {"name": "c8"}, "transform": [{"calculate": "sin(2*PI*datum.k/8)", "as": "px"}, {"calculate": "cos(2*PI*datum.k/8)", "as": "py"}, {"filter": "datum.px < -0.01"}],
             "mark": {"type": "text", "align": "right", "dx": -5, "dy": -6}, "encoding": {"text": {"field": "c"}}},
            {"data": {"name": "c8"}, "transform": [{"calculate": "sin(2*PI*datum.k/8)", "as": "px"}, {"calculate": "cos(2*PI*datum.k/8)", "as": "py"}, {"filter": "datum.k == 0"}],
             "mark": {"type": "text", "align": "center", "baseline": "bottom", "dy": -15.5}, "encoding": {"text": {"field": "c"}}},
            {"data": {"name": "c8"}, "transform": [{"calculate": "sin(2*PI*datum.k/8)", "as": "px"}, {"calculate": "cos(2*PI*datum.k/8)", "as": "py"}, {"filter": "datum.k == 4"}],
             "mark": {"type": "text", "align": "center", "baseline": "top", "dy": 4}, "encoding": {"text": {"field": "c"}}},
            {"data": {"values": [{}]}, "transform": [{"calculate": "0", "as": "px"}, {"calculate": "2.5237", "as": "py"}],
             "mark": {"type": "text", "align": "center", "baseline": "top", "fontSize": 12, "lineHeight": 13.8, "color": "#1f2a36"},
             "encoding": {"text": {"value": ["Dataset 3 – RMSEP", "(Distance and Similarity Threshold", "determination)"]}}}
          ]
        }
      ]
    }
  ]
}
